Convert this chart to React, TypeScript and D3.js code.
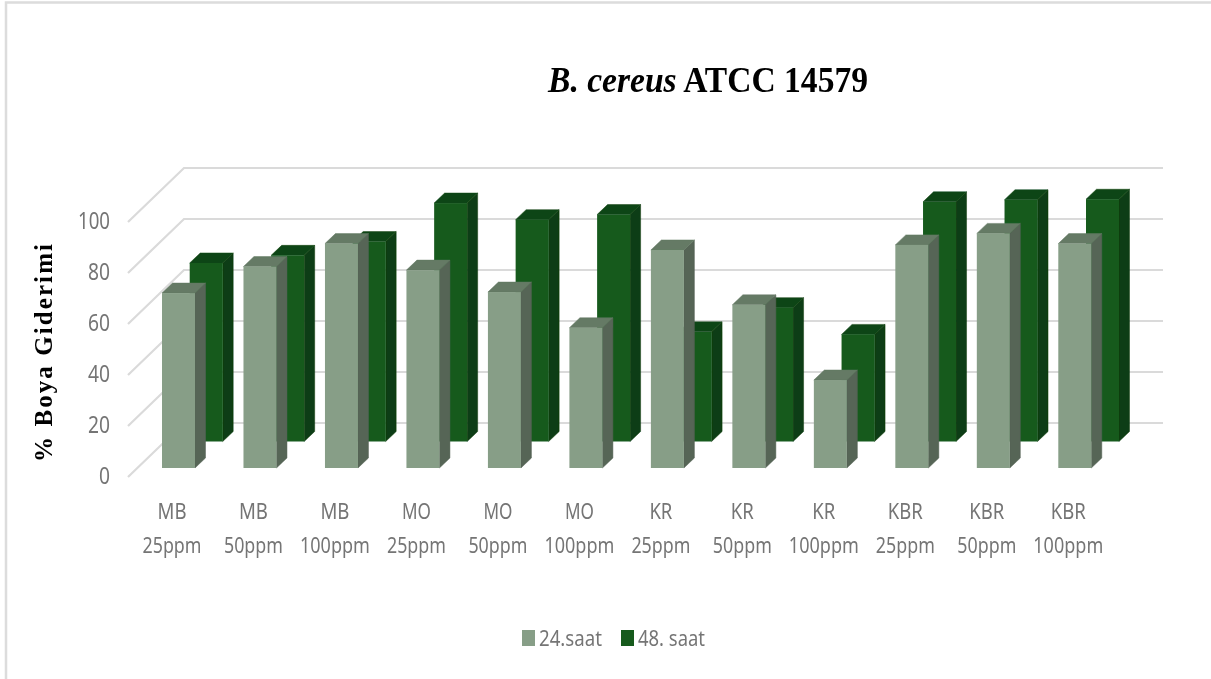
import React from "react";
import * as d3 from "d3";

const groups = ["MB", "MB", "MB", "MO", "MO", "MO", "KR", "KR", "KR", "KBR", "KBR", "KBR"];
const doses = ["25ppm", "50ppm", "100ppm", "25ppm", "50ppm", "100ppm", "25ppm", "50ppm", "100ppm", "25ppm", "50ppm", "100ppm"];
const saat24 = [68.6, 79, 88, 77.6, 69, 55, 85.5, 64, 34.5, 87.5, 92, 88];
const saat48 = [70, 73, 78.4, 93.5, 87, 89, 43, 52.5, 42, 94, 94.8, 95];
const yTicks = [0, 20, 40, 60, 80, 100];

const W = 1211, H = 679;
const idx = groups.map((_, i) => i);
const x = d3.scaleLinear().domain([0, 11]).range([162, 1058.3]);
const yUnit = d3.scaleLinear().domain([0, 100]).range([0, 255]);
const depthX = 10.5, depthY = 10, barW = 33;
const groupWidth: Record<string, number> = { MB: 29, MO: 29, KR: 23, KBR: 35 };

function Bar3D({ left, base, value, front, side, top }: any) {
  const h = yUnit(value);
  const t = base - h, r = left + barW;
  return (
    <g>
      <path d={`M${r},${t}L${r + depthX},${t - depthY}L${r + depthX},${base - depthY}L${r},${base}Z`} fill={side} stroke={side} strokeWidth={0.5} />
      <path d={`M${left},${t}L${left + depthX},${t - depthY}L${r + depthX},${t - depthY}L${r},${t}Z`} fill={top} stroke={top} strokeWidth={0.5} />
      <rect x={left} y={t} width={barW} height={h} fill={front} />
    </g>
  );
}

export default function App() {
  const axisText = "#757575";
  const sans = "'Noto Sans', sans-serif";
  return (
    <svg width={W} height={H} viewBox={`0 0 ${W} ${H}`} style={{ position: "absolute", left: 0, top: 0, background: "#fff" }}>
      <defs>
        <filter id="soft" x="-2%" y="-2%" width="104%" height="104%">
          <feGaussianBlur stdDeviation="0.55" />
        </filter>
      </defs>
      <g filter="url(#soft)">
        <path d={`M6,${H}V2.5H${W}`} fill="none" stroke="#dcdcdc" strokeWidth={2.5} />
        {yTicks.map((t) => {
          const back = 423 - yUnit(t);
          return (
            <path key={t} d={`M128,${back + 54}L184,${back}H1163`} fill="none" stroke="#dadada" strokeWidth={2.2} />
          );
        })}
        {idx.map((i) => (
          <Bar3D key={i} left={x(i) + 27.7} base={441.5} value={saat48[i]} front="#155a1e" side="#0c3d12" top="#0f4514" />
        ))}
        {idx.map((i) => (
          <Bar3D key={i} left={x(i)} base={468} value={saat24[i]} front="#879e87" side="#566556" top="#657a65" />
        ))}
        {yTicks.map((t) => (
          <text key={t} x={110} y={484 - yUnit(t)} textAnchor="end" fontFamily={sans} fontSize={23} fill={axisText} textLength={t === 100 ? 32 : t === 0 ? 11 : 22} lengthAdjust="spacingAndGlyphs">{t}</text>
        ))}
        {idx.map((i) => (
          <g key={i} textAnchor="middle" fontFamily={sans} fontSize={22} fill={axisText}>
            <text x={x(i) + 10} y={519} textLength={groupWidth[groups[i]]} lengthAdjust="spacingAndGlyphs">{groups[i]}</text>
            <text x={x(i) + 10} y={553} textLength={doses[i].length === 6 ? 70 : 59} lengthAdjust="spacingAndGlyphs">{doses[i]}</text>
          </g>
        ))}
        <text x={708} y={92} textAnchor="middle" fontFamily="'Liberation Serif', serif" fontWeight="bold" fontSize={35} fill="#000" textLength={320} lengthAdjust="spacingAndGlyphs">
          <tspan fontStyle="italic">B. cereus</tspan> ATCC 14579
        </text>
        <text transform="translate(52,353) rotate(-90)" textAnchor="middle" fontFamily="'Liberation Serif', serif" fontWeight="bold" fontSize={25} fill="#000" textLength={218} lengthAdjust="spacing">% Boya Giderimi</text>
        <rect x={522} y={630} width={13} height={16} fill="#879e87" />
        <text x={539} y={646} fontFamily={sans} fontSize={21} fill={axisText} textLength={63} lengthAdjust="spacingAndGlyphs">24.saat</text>
        <rect x={621} y={630} width={13} height={16} fill="#155a1e" />
        <text x={638} y={646} fontFamily={sans} fontSize={21} fill={axisText} textLength={67} lengthAdjust="spacingAndGlyphs">48. saat</text>
      </g>
    </svg>
  );
}
